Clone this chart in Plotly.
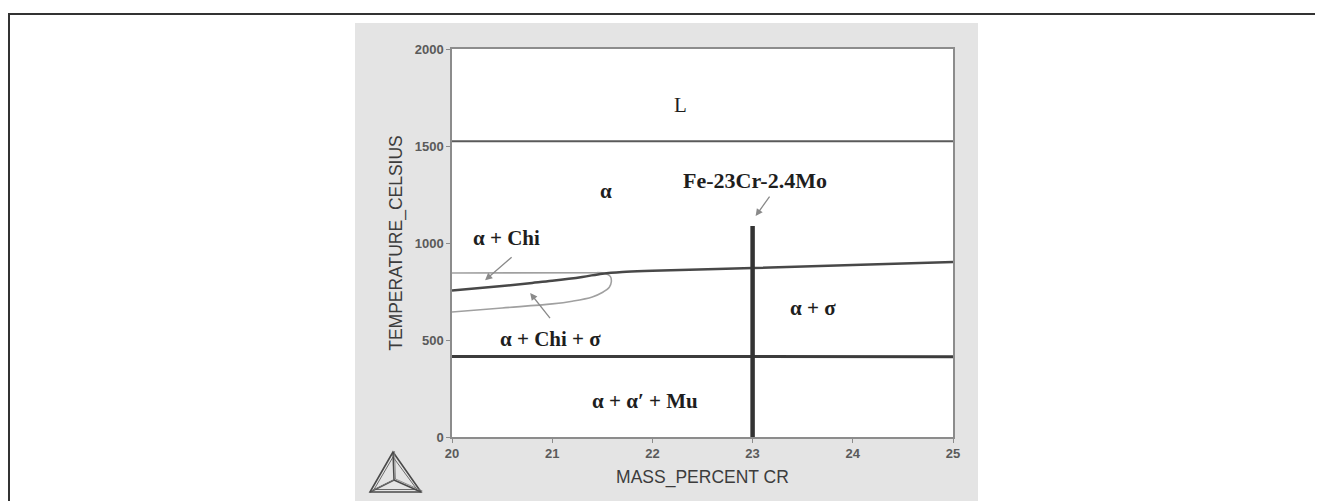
import plotly.graph_objects as go

# ---- data ----
liq_x = [20, 25]
liq_T = [1525, 1525]

sigma_x = [20.0, 20.5, 20.8, 21.0, 21.3, 21.5, 21.7, 22.0, 23.0, 24.0, 25.0]
sigma_T = [755, 778, 794, 805, 825, 842, 851, 857, 871, 886, 902]

chi_top_x = [20.0, 21.5]
chi_top_T = [845, 847]

chi_loop_x = [21.45, 21.53, 21.58, 21.59, 21.57, 21.5, 21.4, 21.2, 21.0, 20.5, 20.0]
chi_loop_T = [848, 843, 828, 800, 772, 745, 722, 700, 686, 665, 644]

eut_x = [20, 25]
eut_T = [415, 414]

alloy_x = [23, 23]
alloy_T = [0, 1088]

x_ticks = [20, 21, 22, 23, 24, 25]
y_ticks = [0, 500, 1000, 1500, 2000]

# region labels: (text, x, T, size, bold)
labels = [
    ("L", 22.28, 1711, 21, False),
    ("α", 21.54, 1268, 21, True),
    ("Fe-23Cr-2.4Mo", 23.02, 1320, 22, True),
    ("α + Chi", 20.54, 1026, 21, True),
    ("α + Chi + σ", 20.98, 505, 21, True),
    ("α + σ", 23.6, 665, 21, True),
    ("α + α′ + Mu", 21.93, 185, 21, True),
]

# arrows: (tail x, tail T, head x, head T)
arrows = [
    (23.18, 1247, 23.03, 1139),
    (20.61, 933, 20.33, 808),
    (20.99, 605, 20.78, 742),
]

fig = go.Figure()

fig.add_trace(go.Scatter(x=liq_x, y=liq_T, mode="lines",
                         line=dict(color="#5a5a5a", width=2), hoverinfo="skip"))
fig.add_trace(go.Scatter(x=chi_top_x, y=chi_top_T, mode="lines",
                         line=dict(color="#a0a0a0", width=1.6), hoverinfo="skip"))
fig.add_trace(go.Scatter(x=chi_loop_x, y=chi_loop_T, mode="lines", line_shape="spline",
                         line=dict(color="#a0a0a0", width=1.6), hoverinfo="skip"))
fig.add_trace(go.Scatter(x=sigma_x, y=sigma_T, mode="lines", line_shape="spline",
                         line=dict(color="#484848", width=2.5), hoverinfo="skip"))
fig.add_trace(go.Scatter(x=eut_x, y=eut_T, mode="lines",
                         line=dict(color="#3c3c3c", width=3), hoverinfo="skip"))
fig.add_trace(go.Scatter(x=alloy_x, y=alloy_T, mode="lines",
                         line=dict(color="#333333", width=4.5), hoverinfo="skip"))

for txt, lx, ly, sz, bold in labels:
    fig.add_annotation(x=lx, y=ly, xref="x", yref="y", text=txt, showarrow=False,
                       font=dict(family="Liberation Serif, Times New Roman, serif",
                                 size=sz, color="#1e1e1e",
                                 weight="bold" if bold else "normal"))

for tx, tT, hx, hT in arrows:
    fig.add_annotation(x=hx, y=hT, ax=tx, ay=tT, xref="x", yref="y", axref="x", ayref="y",
                       text="", showarrow=True, arrowhead=2, arrowsize=1.1,
                       arrowwidth=1.3, arrowcolor="#8a8a8a")

# ---- decorations: outer frame, grey panel, white plot area, logo ----
L0, W, B0, H = 444, 501, 429, 388  # plot area pixel box


def px(x):
    return (x - L0) / W


def py(y):
    return (B0 - y) / H


shapes = []
shapes.append(dict(type="rect", xref="paper", yref="paper", layer="below",
                   x0=px(347), x1=px(970), y0=py(497), y1=py(15),
                   fillcolor="#e4e4e4", line=dict(width=0)))
shapes.append(dict(type="rect", xref="paper", yref="paper", layer="below",
                   x0=0, x1=1, y0=0, y1=1, fillcolor="white", line=dict(width=0)))
shapes.append(dict(type="line", xref="paper", yref="paper",
                   x0=px(0), x1=px(1323), y0=py(6), y1=py(6),
                   line=dict(color="#333333", width=2)))
shapes.append(dict(type="line", xref="paper", yref="paper",
                   x0=px(1), x1=px(1), y0=py(6), y1=py(505),
                   line=dict(color="#333333", width=2)))

# Thermo-Calc style triangle logo
top, bl, br, ctr = (385, 444), (362, 484), (413, 484), (386, 472)


def tri_path(a, b, c):
    return "M {} {} L {} {} L {} {} Z".format(px(a[0]), py(a[1]), px(b[0]), py(b[1]),
                                              px(c[0]), py(c[1]))


shapes.append(dict(type="path", xref="paper", yref="paper", path=tri_path(top, bl, br),
                   line=dict(color="#4a4a4a", width=1.6)))
shapes.append(dict(type="path", xref="paper", yref="paper",
                   path=tri_path((385, 449), (366, 481.5), (409, 481.5)),
                   line=dict(color="#6a6a6a", width=1)))
for v in (top, bl, br):
    shapes.append(dict(type="line", xref="paper", yref="paper",
                       x0=px(ctr[0]), y0=py(ctr[1]), x1=px(v[0]), y1=py(v[1]),
                       line=dict(color="#4a4a4a", width=1.5)))
    shapes.append(dict(type="line", xref="paper", yref="paper",
                       x0=px(ctr[0] + 1.5), y0=py(ctr[1] - 1), x1=px(v[0] + 1.5), y1=py(v[1] - 1),
                       line=dict(color="#7a7a7a", width=0.8)))

fig.update_layout(
    width=1323, height=501,
    margin=dict(l=L0, r=1323 - L0 - W, t=B0 - H, b=501 - B0, pad=0),
    paper_bgcolor="white", plot_bgcolor="white",
    showlegend=False, shapes=shapes,
    font=dict(family="Liberation Sans, Arial, sans-serif"),
)

tickfont = dict(family="Liberation Sans, Arial, sans-serif", size=13, color="#5a5a5a",
                weight="bold")

fig.update_xaxes(range=[20, 25], tickvals=x_ticks, ticktext=[str(v) for v in x_ticks],
                 showgrid=False, zeroline=False, showline=True, linecolor="#8c8c8c",
                 linewidth=1.5, mirror=True, ticks="outside", ticklen=4, tickcolor="#8c8c8c",
                 tickfont=tickfont,
                 title=dict(text="MASS_PERCENT CR", standoff=10,
                            font=dict(family="Liberation Sans, Arial, sans-serif", size=17.5,
                                      color="#3c3c3c")))
fig.update_yaxes(range=[0, 2000], tickvals=y_ticks, ticktext=[str(v) for v in y_ticks],
                 showgrid=False, zeroline=False, showline=True, linecolor="#8c8c8c",
                 linewidth=1.5, mirror=True, ticks="outside", ticklen=4, tickcolor="#8c8c8c",
                 tickfont=tickfont,
                 title=dict(text="TEMPERATURE_CELSIUS", standoff=8,
                            font=dict(family="Liberation Sans, Arial, sans-serif", size=17.5,
                                      color="#3c3c3c")))

fig.write_html("out.html")
